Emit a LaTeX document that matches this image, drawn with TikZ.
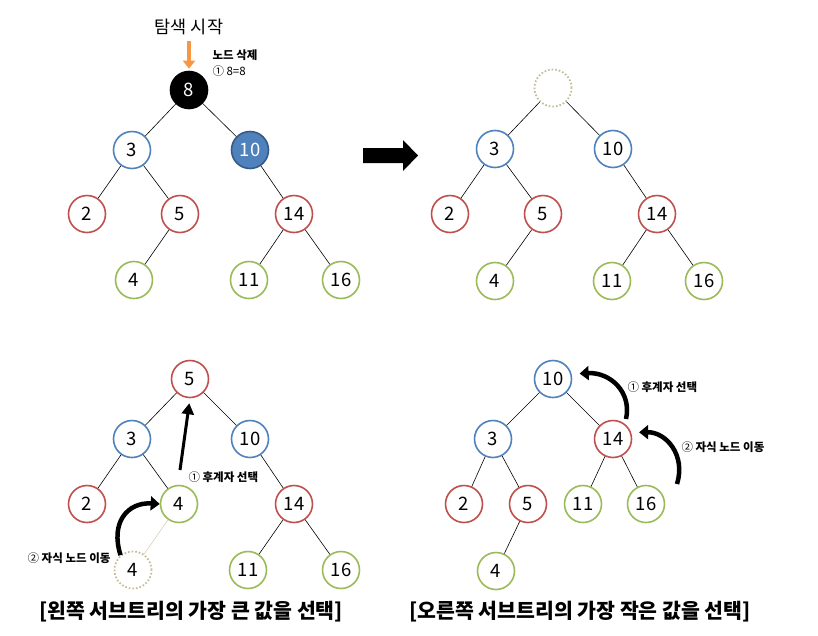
\documentclass[tikz,border=0pt]{standalone}
\usepackage{fontspec}
\setmainfont{Noto Sans CJK KR}
\usetikzlibrary{arrows.meta}
\definecolor{bl}{RGB}{79,129,189}
\definecolor{rd}{RGB}{192,80,77}
\definecolor{gr}{RGB}{155,187,89}
\definecolor{tn}{RGB}{196,189,151}
\definecolor{org}{RGB}{247,150,70}
\tikzset{
    key/.style={circle, draw, line width=1.6pt, minimum size=37pt, inner sep=0pt, fill=white, font=\fontsize{18.5}{18}\selectfont},
    bluekey/.style={key, draw=bl},
    redkey/.style={key, draw=rd},
    greenkey/.style={key, draw=gr},
    emptykey/.style={key, draw=tn, dotted, line width=1.8pt},
    link/.style={line width=0.6pt},
    note/.style={font=\fontsize{11.5}{13}\selectfont},
    caption/.style={font=\bfseries\fontsize{20.5}{24}\selectfont},
    move/.style={line width=4.5pt, -{Triangle[length=9pt,width=14pt]}},
}
\begin{document}
\begin{tikzpicture}[x=1pt,y=-1pt]
  \useasboundingbox (0,0) rectangle (818,635);

  % before deleting
  \node (title) at (189,27) {\fontsize{17.5}{20}\selectfont 탐색 시작};
  \node[key, fill=black, text=white] (a8) at (189,90) {8};
  \node[bluekey] (a3)  at (132,150) {3};
  \node[bluekey, fill=bl, draw=bl!70!black, text=white] (a10) at (250,150) {10};
  \node[redkey]   (a2)  at (87,214)  {2};
  \node[redkey]   (a5)  at (180,214) {5};
  \node[redkey]   (a14) at (294,214) {14};
  \node[greenkey] (a4)  at (134,280) {4};
  \node[greenkey] (a11) at (249,280) {11};
  \node[greenkey] (a16) at (341,280) {16};
  \node[note, anchor=west] (del) at (209,55) {\textbf{노드 삭제}};
  \node[note, anchor=west] (cmp) at (209,71) {① 8=8};
  \coordinate (start) at (189,41);
  \draw[org, line width=3.5pt, -{Triangle[length=8pt,width=12pt]}, shorten >=2pt] (start) -- (a8.north);

  \path[link] (a8) edge (a3) edge (a10);
  \path[link] (a3) edge (a2) edge (a5);
  \path[link] (a5) edge (a4);
  \path[link] (a10) edge (a14);
  \path[link] (a14) edge (a11) edge (a16);

  \fill (363,148) -- (403,148) -- (403,140) -- (418,155.5) -- (403,171) -- (403,163) -- (363,163) -- cycle;

  % after deleting
  \node[emptykey] (b0)  at (553,88)  {};
  \node[bluekey]  (b3)  at (495,149) {3};
  \node[bluekey]  (b10) at (613,149) {10};
  \node[redkey]   (b2)  at (450,214) {2};
  \node[redkey]   (b5)  at (543,214) {5};
  \node[redkey]   (b14) at (657,214) {14};
  \node[greenkey] (b4)  at (495,281) {4};
  \node[greenkey] (b11) at (612,281) {11};
  \node[greenkey] (b16) at (704,281) {16};

  \path[link] (b0) edge (b3) edge (b10);
  \path[link] (b3) edge (b2) edge (b5);
  \path[link] (b5) edge (b4);
  \path[link] (b10) edge (b14);
  \path[link] (b14) edge (b11) edge (b16);

  % left subtree
  \node[redkey]   (c5)  at (190,379) {5};
  \node[bluekey]  (c3)  at (132,439) {3};
  \node[bluekey]  (c10) at (250,439) {10};
  \node[redkey]   (c2)  at (87,504)  {2};
  \node[greenkey] (c4)  at (179,504) {4};
  \node[redkey]   (c14) at (294,504) {14};
  \node[emptykey] (c4old) at (133,570) {4};
  \node[greenkey] (c11) at (248,570) {11};
  \node[greenkey] (c16) at (341,570) {16};

  \path[link] (c5) edge (c3) edge (c10);
  \path[link] (c3) edge (c2) edge (c4);
  \path[link, tn!70] (c4) edge (c4old);
  \path[link] (c10) edge (c14);
  \path[link] (c14) edge (c11) edge (c16);

  \coordinate (c1) at (180,470);
  \draw[line width=3pt, -{Triangle[length=11pt,width=12pt]}, shorten >=5pt] (c1) -- (c5.south);
  \node[note, anchor=west] (cpick) at (185,477) {① \textbf{후계자 선택}};
  \draw[move] (c4old.130) .. controls (110,522) and (128,502) .. (c4.west);
  \node[note, anchor=east] (cmove) at (114,558) {② \textbf{자식 노드 이동}};
  \node[caption] (ccap) at (191,612) {[왼쪽 서브트리의 가장 큰 값을 선택]};

  % right subtree
  \node[bluekey]  (d10) at (553,379) {10};
  \node[bluekey]  (d3)  at (493,439) {3};
  \node[redkey]   (d14) at (613,439) {14};
  \node[redkey]   (d2)  at (464,504) {2};
  \node[redkey]   (d5)  at (528,504) {5};
  \node[greenkey] (d11) at (583,504) {11};
  \node[greenkey] (d16) at (646,504) {16};
  \node[greenkey] (d4)  at (496,571) {4};

  \path[link] (d10) edge (d3) edge (d14);
  \path[link] (d3) edge (d2) edge (d5);
  \path[link] (d5) edge (d4);
  \path[link] (d14) edge (d11) edge (d16);

  \coordinate (d1) at (626,419);
  \draw[move, shorten >=8pt] (d1) .. controls (632,392) and (610,372) .. (d10.15);
  \node[note, anchor=west] (dpick) at (624,387) {① \textbf{후계자 선택}};
  \coordinate (d2s) at (677,484);
  \draw[move, shorten >=8pt] (d2s) .. controls (686,455) and (666,432) .. (d14.20);
  \node[note, anchor=west] (dmove) at (678,447) {② \textbf{자식 노드 이동}};
  \node[caption] (dcap) at (580,612) {[오른쪽 서브트리의 가장 작은 값을 선택]};
\end{tikzpicture}
\end{document}
